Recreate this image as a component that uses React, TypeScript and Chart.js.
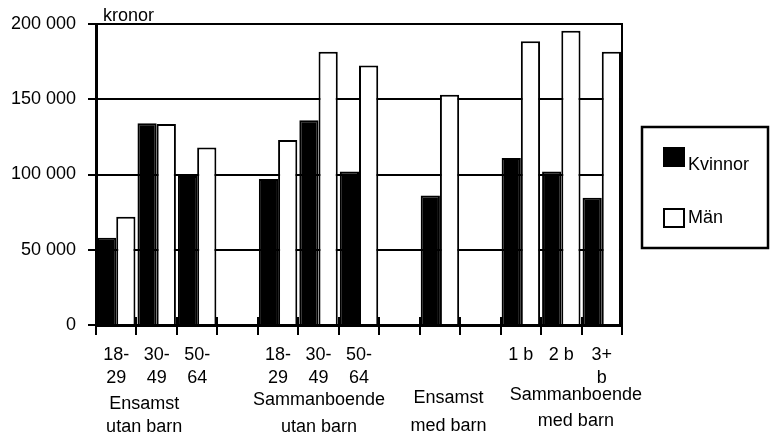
import React, { useEffect, useRef } from 'react';
import { Chart, registerables } from 'chart.js';

Chart.register(...registerables);

// ---- data ----
const categories: (string | string[])[] = [
  ['18-', '29'], ['30-', '49'], ['50-', '64'], '',
  ['18-', '29'], ['30-', '49'], ['50-', '64'], '',
  '', '',
  ['1 b'], ['2 b'], ['3+', 'b'],
];
const kvinnor: (number | null)[] = [58000, 134000, 99000, null, 97000, 136000, 102000, null, 86000, null, 111000, 102000, 84500];
const man: (number | null)[] = [72000, 133500, 118000, null, 123000, 181500, 172500, null, 153000, null, 188500, 195500, 181500];
const seriesNames = ['Kvinnor', 'Män'];
const groupLabels: string[][] = [
  ['Ensamst', 'utan barn'],
  ['Sammanboende', 'utan barn'],
  ['Ensamst', 'med barn'],
  ['Sammanboende', 'med barn'],
];
const yUnit = 'kronor';
const yTicks = { min: 0, max: 200000, step: 50000 };

// ---- layout (not data) ----
const FONT = "'Liberation Sans', Arial, sans-serif";
const groupLayout = [
  { at: 0.69, dy: [84, 107] },
  { at: 5.01, dy: [80, 107] },
  { at: 8.21, dy: [78, 106] },
  { at: 11.36, dy: [75, 101] },
];

const fmt = (v: number) => String(v).replace(/\B(?=(\d{3})+(?!\d))/g, ' ');

const decorPlugin = {
  id: 'decor',
  beforeDatasetsDraw(chart: any) {
    const { ctx, chartArea, scales } = chart;
    const xs = scales.x;
    ctx.save();
    ctx.strokeStyle = '#000';
    ctx.lineWidth = 2;
    for (let i = 0; i <= categories.length; i++) {
      const x = Math.round(xs.getPixelForValue(i - 0.5));
      ctx.beginPath();
      ctx.moveTo(x, chartArea.bottom - 8);
      ctx.lineTo(x, chartArea.bottom);
      ctx.stroke();
    }
    ctx.restore();
  },
  afterDraw(chart: any) {
    const { ctx, chartArea, scales } = chart;
    const xs = scales.x;
    ctx.save();
    // right border
    ctx.strokeStyle = '#000';
    ctx.lineWidth = 2;
    ctx.beginPath();
    ctx.moveTo(chartArea.right, chartArea.top - 1);
    ctx.lineTo(chartArea.right, chartArea.bottom);
    ctx.stroke();

    ctx.fillStyle = '#000';
    ctx.font = `18px ${FONT}`;
    ctx.textBaseline = 'alphabetic';
    // unit label
    ctx.textAlign = 'left';
    ctx.fillText(yUnit, chartArea.left + 7, chartArea.top - 3);

    // group labels
    ctx.textAlign = 'center';
    groupLabels.forEach((lines, gi) => {
      const g = groupLayout[gi];
      const x = xs.getPixelForValue(g.at);
      lines.forEach((t, li) => ctx.fillText(t, x, chartArea.bottom + g.dy[li]));
    });

    // legend
    const bx = chartArea.right + 20;
    const by = 127;
    ctx.lineWidth = 2.5;
    ctx.strokeRect(bx, by, 126, 121);
    ctx.fillRect(bx + 21, by + 20, 22, 20);
    ctx.lineWidth = 2;
    ctx.fillStyle = '#fff';
    ctx.fillRect(bx + 22, by + 82, 20, 18);
    ctx.strokeRect(bx + 22, by + 82, 20, 18);
    ctx.fillStyle = '#000';
    ctx.textAlign = 'left';
    ctx.fillText(seriesNames[0], bx + 46, by + 43);
    ctx.fillText(seriesNames[1], bx + 46, by + 96);
    ctx.restore();
  },
};

export default function App() {
  const ref = useRef<HTMLCanvasElement>(null);
  useEffect(() => {
    if (!ref.current) return;
    const chart = new Chart(ref.current, {
      type: 'bar',
      data: {
        labels: categories as any,
        datasets: [
          {
            label: seriesNames[0],
            data: kvinnor,
            backgroundColor: '#000',
            borderColor: '#000',
            borderWidth: 2,
          },
          {
            label: seriesNames[1],
            data: man,
            backgroundColor: '#fff',
            borderColor: '#000',
            borderWidth: 2,
          },
        ],
      },
      options: {
        responsive: false,
        animation: false,
        events: [],
        datasets: { bar: { categoryPercentage: 0.95, barPercentage: 1 } },
        layout: { padding: { top: 24, right: 149, left: 0, bottom: 0 } },
        plugins: { legend: { display: false }, tooltip: { enabled: false }, title: { display: false } },
        scales: {
          x: {
            offset: true,
            afterFit: (s: any) => { s.height = 111; },
            grid: { display: true, drawOnChartArea: false, drawTicks: true, tickLength: 10, color: '#000', lineWidth: 2, offset: true },
            border: { display: true, color: '#000', width: 3 },
            ticks: {
              autoSkip: false, maxRotation: 0, minRotation: 0, padding: 9, color: '#000',
              font: { family: FONT, size: 18, lineHeight: 23 / 18 },
            },
          },
          y: {
            min: yTicks.min,
            max: yTicks.max,
            afterFit: (s: any) => { s.width = 96; },
            grid: { color: '#000', lineWidth: 2, tickLength: 8, drawTicks: true },
            border: { display: true, color: '#000', width: 3 },
            ticks: {
              stepSize: yTicks.step, padding: 12, color: '#000',
              font: { family: FONT, size: 18 },
              callback: (v: any) => fmt(Number(v)),
            },
          },
        },
      },
      plugins: [decorPlugin],
    });
    return () => chart.destroy();
  }, []);
  return (
    <div style={{ position: 'fixed', left: 0, top: 0, width: 771, height: 436, background: '#fff' }}>
      <canvas ref={ref} width={771} height={436} style={{ display: 'block' }} />
    </div>
  );
}
